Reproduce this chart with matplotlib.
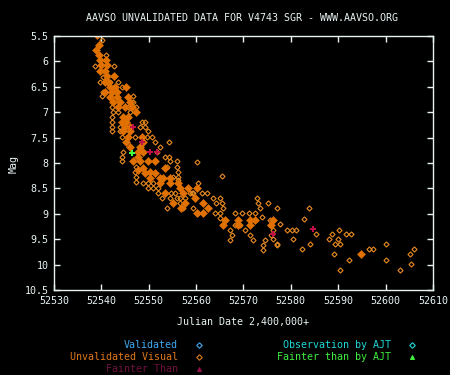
import matplotlib
matplotlib.use("Agg")
import matplotlib.pyplot as plt
from matplotlib.lines import Line2D

# Beobachtungen V4743 Sgr
# gefuellte Rauten
filled_jd = [52539.0, 52539.5, 52538.9, 52539.5, 52539.7, 52540.9, 52539.9, 52541.1,
             52539.7, 52540.8, 52541.1, 52542.7, 52540.8, 52541.5, 52541.8, 52542.9,
             52545.3, 52540.8, 52542.2, 52543.2, 52541.8, 52543.2, 52545.6, 52542.4,
             52543.9, 52546.0, 52543.5, 52545.0, 52546.4, 52547.4, 52544.6, 52545.6,
             52544.3, 52545.3, 52545.0, 52546.0, 52544.6, 52546.0, 52545.6, 52548.5,
             52545.3, 52548.8, 52546.0, 52548.1, 52547.7, 52548.8, 52547.7, 52546.7,
             52548.1, 52549.8, 52551.3, 52548.8, 52553.4, 52547.7, 52550.3, 52549.2,
             52551.3, 52550.3, 52552.4, 52553.1, 52554.5, 52552.4, 52554.5, 52556.2,
             52556.6, 52558.3, 52553.4, 52557.3, 52555.2, 52557.6, 52556.9, 52559.7,
             52560.1, 52560.1, 52561.5, 52562.6, 52561.5, 52566.1, 52565.7, 52568.9,
             52568.9, 52571.4, 52572.4, 52571.4, 52576.3, 52575.9, 52594.9]
filled_mag = [5.48, 5.68, 5.78, 5.87, 5.97, 5.97, 6.08, 6.08,
              6.18, 6.18, 6.29, 6.29, 6.40, 6.40, 6.50, 6.50,
              6.50, 6.60, 6.60, 6.60, 6.70, 6.70, 6.70, 6.79,
              6.79, 6.79, 6.89, 6.89, 6.89, 6.99, 7.09, 7.09,
              7.19, 7.19, 7.29, 7.29, 7.38, 7.38, 7.48, 7.48,
              7.58, 7.58, 7.68, 7.68, 7.78, 7.78, 7.88, 7.97,
              7.97, 7.97, 7.97, 8.10, 8.10, 8.14, 8.17, 8.20,
              8.20, 8.30, 8.30, 8.30, 8.30, 8.40, 8.40, 8.40,
              8.50, 8.50, 8.60, 8.60, 8.79, 8.79, 8.89, 8.69,
              8.99, 8.50, 8.79, 8.89, 8.99, 9.12, 9.22, 9.12,
              9.22, 9.12, 9.12, 9.22, 9.12, 9.22, 9.79]

# offene Rauten
open_jd = [52540.1, 52541.0, 52538.6, 52542.7, 52540.4, 52539.7, 52541.8, 52543.6,
           52544.3, 52540.4, 52540.1, 52546.7, 52546.7, 52545.7, 52547.4, 52542.2,
           52542.5, 52543.6, 52546.0, 52542.2, 52542.2, 52542.2, 52542.2, 52548.5,
           52549.2, 52548.1, 52549.2, 52549.9, 52550.6, 52549.6, 52543.9, 52543.9,
           52544.3, 52547.1, 52551.3, 52552.4, 52551.7, 52554.3, 52544.6, 52544.3,
           52544.3, 52553.4, 52554.3, 52554.5, 52553.8, 52555.9, 52560.2, 52547.4,
           52547.1, 52547.4, 52555.9, 52556.2, 52555.2, 52556.2, 52565.5, 52547.4,
           52548.8, 52549.9, 52551.0, 52549.9, 52551.0, 52552.0, 52556.2, 52560.4,
           52554.8, 52555.5, 52554.5, 52555.9, 52552.7, 52552.0, 52556.6, 52557.6,
           52558.7, 52559.4, 52553.8, 52556.6, 52557.3, 52559.4, 52560.4, 52561.2,
           52562.2, 52563.5, 52565.0, 52565.4, 52564.3, 52565.7, 52564.0, 52565.0,
           52568.2, 52569.6, 52571.2, 52572.4, 52573.5, 52573.1, 52572.8, 52575.2,
           52577.0, 52565.0, 52567.1, 52567.5, 52567.1, 52568.2, 52569.2, 52570.3,
           52571.4, 52572.1, 52573.9, 52574.5, 52574.2, 52574.2, 52575.6, 52575.6,
           52576.3, 52575.9, 52577.0, 52583.9, 52582.8, 52577.7, 52579.1, 52580.2,
           52581.2, 52585.4, 52580.5, 52576.3, 52577.1, 52584.0, 52582.3, 52588.8,
           52590.2, 52591.6, 52592.8, 52588.1, 52589.9, 52589.3, 52590.3, 52589.1,
           52590.3, 52592.3, 52596.6, 52597.3, 52600.0, 52600.0, 52603.0, 52605.1,
           52606.0, 52605.3, 52559.1]
open_mag = [5.58, 5.87, 6.09, 6.09, 6.30, 6.40, 6.40, 6.40,
            6.50, 6.60, 6.69, 6.69, 6.79, 6.89, 6.89, 6.89,
            6.99, 6.99, 6.99, 7.09, 7.19, 7.29, 7.38, 7.19,
            7.19, 7.29, 7.29, 7.38, 7.48, 7.48, 7.29, 7.38,
            7.48, 7.48, 7.58, 7.68, 7.78, 7.59, 7.78, 7.88,
            7.97, 7.88, 7.88, 7.97, 8.07, 7.97, 7.99, 8.07,
            8.17, 8.27, 8.07, 8.17, 8.27, 8.27, 8.25, 8.37,
            8.40, 8.40, 8.40, 8.50, 8.50, 8.50, 8.33, 8.40,
            8.60, 8.60, 8.69, 8.69, 8.69, 8.60, 8.69, 8.69,
            8.60, 8.60, 8.89, 8.79, 8.89, 8.89, 8.99, 8.60,
            8.60, 8.69, 8.69, 8.79, 8.79, 8.89, 8.99, 8.99,
            8.99, 8.99, 8.99, 8.99, 8.89, 8.79, 8.69, 8.79,
            8.89, 9.09, 9.32, 9.42, 9.52, 9.22, 9.22, 9.32,
            9.42, 9.52, 9.06, 9.52, 9.61, 9.71, 9.12, 9.22,
            9.32, 9.42, 9.61, 8.89, 9.11, 9.21, 9.31, 9.31,
            9.31, 9.40, 9.50, 9.50, 9.60, 9.60, 9.70, 9.40,
            9.31, 9.40, 9.40, 9.50, 9.50, 9.60, 9.60, 9.80,
            10.11, 9.90, 9.70, 9.70, 9.60, 9.90, 10.11, 9.79,
            9.70, 9.99, 8.60]

# "Fainter Than" und AJT
fainter_jd = [52546.7, 52548.6, 52550.3, 52551.7, 52576.2, 52584.6]
fainter_mag = [7.29, 7.59, 7.78, 7.78, 9.40, 9.30]
ajt_jd = [52546.5]
ajt_mag = [7.80]

x_ticks = [52530, 52540, 52550, 52560, 52570, 52580, 52590, 52600, 52610]
y_ticks = [5.5, 6, 6.5, 7, 7.5, 8, 8.5, 9, 9.5, 10, 10.5]

mono = "DejaVu Sans Mono"
fg = "#e8f4f4"
orange = "#e07000"

fig = plt.figure(figsize=(4.5, 3.75), dpi=100, facecolor="black")
ax = fig.add_axes([0.12, 0.2267, 0.842, 0.6773], facecolor="black")

ax.plot(open_jd, open_mag, linestyle="none", marker="D", markersize=2.6,
        fillstyle="none", markeredgewidth=0.8, color="#e88a20")
ax.plot(filled_jd, filled_mag, linestyle="none", marker="D", markersize=3.6,
        markeredgewidth=0.4, color=orange)
ax.plot(fainter_jd, fainter_mag, linestyle="none", marker="P", markersize=4,
        markeredgewidth=0, color="#c01048")
ax.plot(ajt_jd, ajt_mag, linestyle="none", marker="P", markersize=4.5,
        markeredgewidth=0, color="#40ff40")

ax.set_xlim(52530, 52610)
ax.set_ylim(10.5, 5.5)
ax.set_xticks(x_ticks)
ax.set_xticklabels([str(v) for v in x_ticks])
ax.set_yticks(y_ticks)
ax.set_yticklabels([("%g" % v) for v in y_ticks])

for s in ax.spines.values():
    s.set_color(fg)
    s.set_linewidth(1)
ax.tick_params(direction="in", length=4, width=1, color=fg, labelcolor=fg,
               top=True, right=True, labelsize=7.2, pad=4)
for lab in ax.get_xticklabels() + ax.get_yticklabels():
    lab.set_family(mono)

ax.set_xlabel("Julian Date 2,400,000+", color=fg, fontsize=7.2, family=mono, labelpad=8)
fig.text(14 / 450, 1 - 164 / 375, "Mag", color=fg, fontsize=7.2, family=mono,
         rotation=90, ha="center", va="center")
fig.text(0.538, 0.952, "AAVSO UNVALIDATED DATA FOR V4743 SGR - WWW.AAVSO.ORG",
         color=fg, fontsize=7.2, family=mono, ha="center", va="center")

# Legende unten
legend_left = [("Validated", "#40a8f0", "#40a8f0", "D"),
               ("Unvalidated Visual", "#e07818", "#e07818", "D"),
               ("Fainter Than", "#701040", "#901048", "^")]
legend_right = [("Observation by AJT", "#20d8d8", "#20d8d8", "D"),
                ("Fainter than by AJT", "#40f040", "#40f040", "^")]
rows_y = [1 - 345 / 375, 1 - 357 / 375, 1 - 369 / 375]

for (txt, tc, mc, mk), yy in zip(legend_left, rows_y):
    fig.text(178 / 450, yy, txt, color=tc, fontsize=7.2, family=mono,
             ha="right", va="center")
    fig.add_artist(Line2D([199 / 450], [yy], marker=mk, markersize=2.8,
                          fillstyle="none" if mk == "D" else "full",
                          markeredgewidth=0.8, color=mc, linestyle="none",
                          transform=fig.transFigure))
for (txt, tc, mc, mk), yy in zip(legend_right, rows_y):
    fig.text(391 / 450, yy, txt, color=tc, fontsize=7.2, family=mono,
             ha="right", va="center")
    fig.add_artist(Line2D([412 / 450], [yy], marker=mk, markersize=2.8,
                          fillstyle="none" if mk == "D" else "full",
                          markeredgewidth=0.8, color=mc, linestyle="none",
                          transform=fig.transFigure))

fig.savefig("out.png", dpi=100, facecolor="black")
